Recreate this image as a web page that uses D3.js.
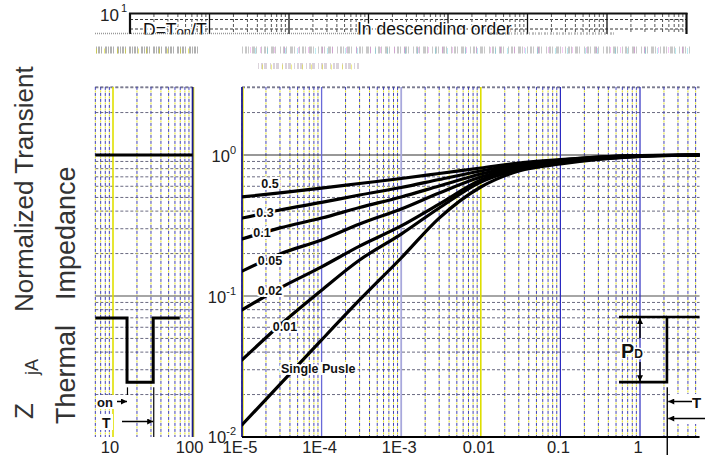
<!DOCTYPE html>
<html><head><meta charset="utf-8">
<script src="https://cdn.jsdelivr.net/npm/d3@7"></script>
<style>
html,body{margin:0;padding:0;background:#fff;}
svg{display:block;font-family:"Liberation Sans",Arial,sans-serif;}
</style></head><body>
<svg id="c" width="717" height="455"></svg>
<script>
// Square wave pulse duration (s)
const pulseTimes = [1e-5, 3e-5, 1e-4, 3e-4, 1e-3, 3e-3, 1e-2, 3e-2, 1e-1, 3e-1, 1, 5.6];
// Normalized transient thermal impedance, one series per duty cycle
const zD050 = [0.504, 0.538, 0.583, 0.628, 0.681, 0.739, 0.809, 0.878, 0.929, 0.968, 0.992, 1.0];
const zD030 = [0.357, 0.407, 0.461, 0.520, 0.588, 0.670, 0.770, 0.856, 0.922, 0.968, 0.992, 1.0];
const zD010 = [0.254, 0.304, 0.357, 0.424, 0.504, 0.603, 0.733, 0.836, 0.907, 0.960, 0.989, 1.0];
const zD005 = [0.150, 0.199, 0.250, 0.324, 0.414, 0.538, 0.698, 0.815, 0.892, 0.952, 0.984, 1.0];
const zD002 = [0.0796, 0.114, 0.161, 0.226, 0.314, 0.449, 0.665, 0.802, 0.885, 0.944, 0.984, 1.0];
const zD001 = [0.0352, 0.0623, 0.110, 0.180, 0.275, 0.421, 0.643, 0.789, 0.878, 0.937, 0.979, 1.0];
const zSingle = [0.0122, 0.0236, 0.0488, 0.0937, 0.186, 0.357, 0.593, 0.770, 0.863, 0.929, 0.976, 1.0];
const dutyLabels = ["0.5", "0.3", "0.1", "0.05", "0.02", "0.01", "Single Pusle"];
const seriesList = [zD050, zD030, zD010, zD005, zD002, zD001, zSingle];

// Axis ticks
const xTickValues = [1e-5, 1e-4, 1e-3, 1e-2, 1e-1, 1];
const xTickLabels = ["1E-5", "1E-4", "1E-3", "0.01", "0.1", "1"];
const yTickValues = [1, 0.1, 0.01];
const yTickExps = ["0", "-1", "-2"];
const leftTickValues = [10, 100];
const leftTickLabels = ["10", "100"];

const svg = d3.select("#c");

// Scales
const x = d3.scaleLog().domain([1e-5, 1]).range([242, 640]);
const y = d3.scaleLog().domain([0.01, 1]).range([437, 155]);
const xl = d3.scaleLog().domain([10, 100]).range([113, 192.6]);
const xs = d3.scaleLog().domain([1, 10]).range([130, 209.5]);
const yTopVal = 3.04;
const plotTop = y(yTopVal);
const plotBot = y(0.01);
const xMax = 5.6;

function minorValues(lo, hi) {
  const out = [];
  for (let e = Math.floor(Math.log10(lo)); e <= Math.ceil(Math.log10(hi)); e++) {
    for (let m = 2; m <= 9; m++) {
      const v = m * Math.pow(10, e);
      if (v > lo * 1.0001 && v < hi * 0.9999) out.push(v);
    }
  }
  return out;
}
function decadeValues(lo, hi) {
  const out = [];
  for (let e = Math.ceil(Math.log10(lo) - 1e-9); e <= Math.floor(Math.log10(hi) + 1e-9); e++) out.push(Math.pow(10, e));
  return out;
}

// Grid for a log-log panel
function drawPanel(g, sc, lo, hi, majorStyle) {
  const x0 = sc(lo), x1 = sc(hi);
  // horizontal minor grid
  g.selectAll(null).data(minorValues(0.01, yTopVal).concat([yTopVal])).join("line")
    .attr("x1", x0).attr("x2", x1).attr("y1", d => y(d)).attr("y2", d => y(d))
    .attr("stroke", "#6a6a80").attr("stroke-width", 1).attr("stroke-dasharray", "3,2");
  // vertical minor grid: blue dashes with a yellow fleck between
  const mv = minorValues(lo, hi).concat([lo]);
  g.selectAll(null).data(mv).join("line")
    .attr("x1", d => sc(d)).attr("x2", d => sc(d)).attr("y1", plotTop).attr("y2", plotBot)
    .attr("stroke", "#e4e420").attr("stroke-width", 1).attr("stroke-dasharray", "2,4").attr("stroke-dashoffset", 2.5);
  g.selectAll(null).data(mv).join("line")
    .attr("x1", d => sc(d)).attr("x2", d => sc(d)).attr("y1", plotTop).attr("y2", plotBot)
    .attr("stroke", "#4040b4").attr("stroke-width", 1).attr("stroke-dasharray", "3,3");
  // horizontal decade lines
  g.append("line").attr("x1", x0).attr("x2", x1).attr("y1", y(1)).attr("y2", y(1))
    .attr("stroke", "#333").attr("stroke-width", 1.2);
  g.append("line").attr("x1", x0).attr("x2", x1).attr("y1", y(0.1)).attr("y2", y(0.1))
    .attr("stroke", "#888").attr("stroke-width", 1.6);
  // vertical decade lines
  decadeValues(lo, hi).forEach(v => {
    const st = majorStyle(v);
    if (st.yellow) {
      g.append("line").attr("x1", sc(v) + 1).attr("x2", sc(v) + 1).attr("y1", plotTop).attr("y2", plotBot)
        .attr("stroke", "#e8e800").attr("stroke-width", 1.4);
    }
    g.append("line").attr("x1", sc(v)).attr("x2", sc(v)).attr("y1", plotTop).attr("y2", plotBot)
      .attr("stroke", st.color).attr("stroke-width", st.width);
  });
}

// Main panel
const gMain = svg.append("g");
drawPanel(gMain, x, 1e-5, xMax, v => {
  const e = Math.round(Math.log10(v));
  if (e === -5) return { color: "#1c1c90", width: 1.8, yellow: true };
  if (e === -4) return { color: "#6a6ad8", width: 1.3 };
  if (e === -3) return { color: "#a8a8dc", width: 1.8 };
  if (e === -2) return { color: "#dede00", width: 1.6 };
  return { color: "#2a2ac0", width: 1.2 };
});
gMain.append("line").attr("x1", x(1e-5)).attr("x2", x(xMax)).attr("y1", plotBot).attr("y2", plotBot)
  .attr("stroke", "#000").attr("stroke-width", 2.2);

// Left panel
const gLeft = svg.append("g");
drawPanel(gLeft, xl, 6, 100, v => {
  if (v === 10) return { color: "#e0e000", width: 1.6 };
  return { color: "#1c1c90", width: 1.8, yellow: true };
});
gLeft.append("line").attr("x1", xl(6)).attr("x2", xl(100)).attr("y1", y(1)).attr("y2", y(1))
  .attr("stroke", "#000").attr("stroke-width", 3);

// Curves
const defsClip = svg.append("defs");
defsClip.append("clipPath").attr("id", "plotClip").append("rect")
  .attr("x", x(1e-5)).attr("y", plotTop).attr("width", x(xMax) - x(1e-5)).attr("height", plotBot - plotTop);
const line = d3.line().x(d => x(d[0])).y(d => y(d[1])).curve(d3.curveMonotoneX);
const gCurves = svg.append("g").attr("clip-path", "url(#plotClip)");
seriesList.forEach(s => {
  gCurves.append("path").attr("d", line(pulseTimes.map((t, i) => [t, s[i]])))
    .attr("fill", "none").attr("stroke", "#000").attr("stroke-width", 3.2).attr("stroke-linecap", "round");
});

// Curve labels
const labelSpots = [[2.25e-5, 0.633, "middle"], [1.94e-5, 0.388, "middle"], [1.78e-5, 0.28, "middle"],
  [2.25e-5, 0.180, "middle"], [2.25e-5, 0.110, "middle"], [3.47e-5, 0.0604, "middle"], [3.09e-5, 0.0308, "start"]];
dutyLabels.forEach((lab, i) => {
  const [t, z, anchor] = labelSpots[i];
  svg.append("text").attr("x", x(t)).attr("y", y(z)).attr("dy", "0.36em")
    .attr("text-anchor", anchor).attr("font-size", 12.5).attr("font-weight", "bold")
    .attr("fill", "#111").attr("stroke", "#fff").attr("stroke-width", 4).attr("paint-order", "stroke")
    .text(lab);
});

// X tick labels
svg.selectAll(null).data(xTickValues).join("text")
  .attr("x", d => x(d) - 2).attr("y", 453).attr("text-anchor", "middle")
  .attr("font-size", 16.5).attr("fill", "#222").text((d, i) => xTickLabels[i]);
svg.selectAll(null).data(leftTickValues).join("text")
  .attr("x", d => xl(d) - 3).attr("y", 453).attr("text-anchor", "middle")
  .attr("font-size", 16.5).attr("fill", "#222").text((d, i) => leftTickLabels[i]);

// Y tick labels
yTickValues.forEach((v, i) => {
  const base = i === 2 ? y(v) + 6 : y(v) + 7;
  const t = svg.append("text").attr("x", 236).attr("y", base).attr("text-anchor", "end")
    .attr("font-size", 16.5).attr("fill", "#222");
  t.append("tspan").text("10");
  t.append("tspan").attr("font-size", 11).attr("dy", -8).text(yTickExps[i]);
});
{
  const t = svg.append("text").attr("x", 100).attr("y", 21).attr("font-size", 17).attr("fill", "#222");
  t.append("tspan").text("10");
  t.append("tspan").attr("font-size", 11).attr("dy", -9).attr("dx", 2).text("1");
}

// Legend strip along the top
svg.append("defs").append("clipPath").attr("id", "stripClip").append("rect")
  .attr("x", 0).attr("y", 0).attr("width", 717).attr("height", 34.5);
const gStrip = svg.append("g").attr("clip-path", "url(#stripClip)");
const s0 = xs(1), s1 = xs(1e7);
[19.5, 29].forEach(yy => {
  gStrip.append("line").attr("x1", s0).attr("x2", s1).attr("y1", yy).attr("y2", yy)
    .attr("stroke", "#333").attr("stroke-width", 1).attr("stroke-dasharray", "3,2");
});
gStrip.selectAll(null).data(minorValues(1, 1e7)).join("line")
  .attr("x1", d => xs(d)).attr("x2", d => xs(d)).attr("y1", 14).attr("y2", 34)
  .attr("stroke", "#555").attr("stroke-width", 1).attr("stroke-dasharray", "3,2");
gStrip.selectAll(null).data(decadeValues(1, 1e7)).join("line")
  .attr("x1", d => xs(d)).attr("x2", d => xs(d)).attr("y1", 13).attr("y2", 34)
  .attr("stroke", "#111").attr("stroke-width", (d, i, a) => (i === 0 || i === a.length - 1) ? 2.2 : 1.3);
gStrip.append("line").attr("x1", s0 - 1).attr("x2", s1 + 1).attr("y1", 13.5).attr("y2", 13.5)
  .attr("stroke", "#111").attr("stroke-width", 2.2);
{
  const t = gStrip.append("text").attr("x", 143).attr("y", 35.5).attr("font-size", 17.5).attr("fill", "#111")
    .attr("stroke", "#fff").attr("stroke-width", 3).attr("paint-order", "stroke");
  t.append("tspan").text("D=T");
  t.append("tspan").attr("font-size", 13).text("on");
  t.append("tspan").text("/T");
}
gStrip.append("text").attr("x", 357).attr("y", 35).attr("font-size", 17.5).attr("fill", "#111")
  .attr("stroke", "#fff").attr("stroke-width", 3).attr("paint-order", "stroke")
  .text("In descending order");

// Speckled residue rows beneath the strip
const speckRows = [
  { x0: 95, x1: 360, y: 33.5, w: 1.6, color: "#555", dash: "1,1", op: 0.6 },
  { x0: 490, x1: 615, y: 33.5, w: 2.5, color: "#666", dash: "2,1,1,2", op: 0.45 },
  { x0: 96, x1: 198, y: 50, w: 7, color: "#666", dash: "1,1,2,1,1,3,2,1", op: 0.5 },
  { x0: 242, x1: 690, y: 50, w: 7, color: "#777", dash: "1,2,2,1,1,3,3,1,1,4", op: 0.4 },
  { x0: 250, x1: 690, y: 50, w: 6, color: "#e060e0", dash: "1,9,1,13", op: 0.35 },
  { x0: 255, x1: 690, y: 51, w: 6, color: "#40d0e0", dash: "1,11,1,17", op: 0.35 },
  { x0: 96, x1: 200, y: 51, w: 5, color: "#e0e000", dash: "1,7,1,12", op: 0.5 },
  { x0: 258, x1: 360, y: 66, w: 6, color: "#b0a0b0", dash: "1,2,2,1,3,3", op: 0.45 },
  { x0: 262, x1: 355, y: 67, w: 5, color: "#e0e000", dash: "1,8,1,10", op: 0.45 }
];
speckRows.forEach(r => {
  svg.append("line").attr("x1", r.x0).attr("x2", r.x1).attr("y1", r.y).attr("y2", r.y)
    .attr("stroke", r.color).attr("stroke-width", r.w).attr("stroke-dasharray", r.dash).attr("opacity", r.op);
});

// Y axis title
function rotText(xx, yy, size, str, fill) {
  return svg.append("text").attr("transform", `translate(${xx},${yy}) rotate(-90)`)
    .attr("font-size", size).attr("fill", fill || "#333").text(str);
}
rotText(33, 419, 26, "Z");
rotText(38, 375, 18, "jA");
rotText(33, 312, 26, "Normalized Transient");
rotText(75, 424, 27, "Thermal");
rotText(75, 300, 27, "Impedance");

// Pulse sketch in the left panel
const pulseLeft = [[6, 0.0698], [15, 0.0698], [15, 0.0245], [32, 0.0245], [32, 0.0698], [69, 0.0698]];
const lineL = d3.line().x(d => xl(d[0])).y(d => y(d[1]));
svg.append("path").attr("d", lineL(pulseLeft)).attr("fill", "none").attr("stroke", "#000").attr("stroke-width", 3);
svg.append("line").attr("x1", xl(15.2)).attr("x2", xl(15.2)).attr("y1", y(0.0225)).attr("y2", y(0.0175))
  .attr("stroke", "#000").attr("stroke-width", 1.2);
svg.append("line").attr("x1", xl(32.5)).attr("x2", xl(32.5)).attr("y1", y(0.0225)).attr("y2", plotBot)
  .attr("stroke", "#000").attr("stroke-width", 1.2);

const arrowDefs = svg.append("defs");
arrowDefs.append("marker").attr("id", "ah").attr("viewBox", "0 0 10 10").attr("refX", 10).attr("refY", 5)
  .attr("markerWidth", 10).attr("markerHeight", 6).attr("markerUnits", "userSpaceOnUse").attr("orient", "auto")
  .append("path").attr("d", "M0,0L10,5L0,10Z").attr("fill", "#000");

function labelBox(xx, yy, w, h) {
  svg.append("rect").attr("x", xx).attr("y", yy).attr("width", w).attr("height", h).attr("fill", "#fff");
}
labelBox(96, 395, 33, 14);
svg.append("text").attr("x", 97).attr("y", 407).attr("font-size", 13).attr("font-weight", "bold").attr("fill", "#111").text("on");
svg.append("line").attr("x1", 117).attr("x2", xl(15)).attr("y1", 401.5).attr("y2", 401.5)
  .attr("stroke", "#000").attr("stroke-width", 1.5).attr("marker-end", "url(#ah)");
labelBox(100, 414, 13, 16);
svg.append("text").attr("x", 102).attr("y", 428).attr("font-size", 14).attr("font-weight", "bold").attr("fill", "#111").text("T");
svg.append("line").attr("x1", 122).attr("x2", xl(32)).attr("y1", 421.5).attr("y2", 421.5)
  .attr("stroke", "#000").attr("stroke-width", 1.5).attr("marker-end", "url(#ah)");

// Power pulse sketch at the right
const pulseRight = [[0.545, 0.0245], [2.18, 0.0245], [2.18, 0.071], [xMax, 0.071]];
const pulseRightTop = [[0.545, 0.071], [2.18, 0.071]];
const lineStraight = d3.line().x(d => x(d[0])).y(d => y(d[1]));
svg.append("path").attr("d", lineStraight(pulseRight)).attr("fill", "none").attr("stroke", "#000").attr("stroke-width", 2.6);
svg.append("path").attr("d", lineStraight(pulseRightTop)).attr("fill", "none").attr("stroke", "#000").attr("stroke-width", 2.6);
svg.append("line").attr("x1", x(1)).attr("x2", x(1)).attr("y1", 338).attr("y2", y(0.071) + 1)
  .attr("stroke", "#000").attr("stroke-width", 1.5).attr("marker-end", "url(#ah)");
svg.append("line").attr("x1", x(1)).attr("x2", x(1)).attr("y1", 362).attr("y2", y(0.0245) - 1)
  .attr("stroke", "#000").attr("stroke-width", 1.5).attr("marker-end", "url(#ah)");
{
  const t = svg.append("text").attr("x", 621).attr("y", 358).attr("font-weight", "bold").attr("fill", "#111")
    .attr("stroke", "#fff").attr("stroke-width", 3).attr("paint-order", "stroke");
  t.append("tspan").attr("font-size", 20).text("P");
  t.append("tspan").attr("font-size", 12).text("D");
}
svg.append("line").attr("x1", x(2.2)).attr("x2", x(2.2)).attr("y1", y(0.0225)).attr("y2", 455)
  .attr("stroke", "#000").attr("stroke-width", 1.4);
labelBox(670, 394, 47, 30);
svg.append("text").attr("x", 692).attr("y", 408).attr("font-size", 15).attr("font-weight", "bold").attr("fill", "#111").text("T");
svg.append("line").attr("x1", 692).attr("x2", x(2.2) + 1).attr("y1", 401.5).attr("y2", 401.5)
  .attr("stroke", "#000").attr("stroke-width", 1.5).attr("marker-end", "url(#ah)");
svg.append("line").attr("x1", 705).attr("x2", x(2.2) + 1).attr("y1", 418.5).attr("y2", 418.5)
  .attr("stroke", "#000").attr("stroke-width", 1.5).attr("marker-end", "url(#ah)");
</script>
</body></html>
